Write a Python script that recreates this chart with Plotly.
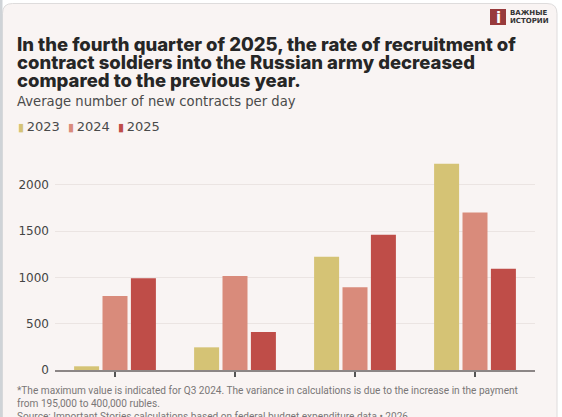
import plotly.graph_objects as go

categories = ["I", "II", "III*", "IV"]
years = ["2023", "2024", "2025"]
values_2023 = [40, 245, 1225, 2230]
values_2024 = [800, 1015, 895, 1703]
values_2025 = [992, 412, 1462, 1094]
series = [values_2023, values_2024, values_2025]
colors = ["#d5c375", "#d98b7b", "#bf4d48"]
y_ticks = [0, 500, 1000, 1500, 2000]

W, H = 562, 417
L, R, T, B = 55, 27, 160, 47
PW, PH = W - L - R, H - T - B


def px(x):
    return (x - L) / PW


def py(y):
    return (H - B - y) / PH


fig = go.Figure()
for name, vals, col in zip(years, series, colors):
    fig.add_trace(go.Bar(x=categories, y=vals, name=name, marker_color=col,
                         marker_line_width=0, showlegend=False))

shapes = []
r = 10
x0, x1, y0, y1 = 2.5, 557, 3.5, 430
path = (f"M {px(x0)},{py(y1)} L {px(x0)},{py(y0 + r)} "
        f"Q {px(x0)},{py(y0)} {px(x0 + r)},{py(y0)} "
        f"L {px(x1 - r)},{py(y0)} Q {px(x1)},{py(y0)} {px(x1)},{py(y0 + r)} "
        f"L {px(x1)},{py(y1)} Z")
shapes.append(dict(type="path", path=path, xref="paper", yref="paper",
                   fillcolor="#f9f4f3", line=dict(color="#dedcdc", width=1), layer="below"))
shapes.append(dict(type="rect", xref="paper", yref="paper", x0=px(0), x1=px(2.5),
                   y0=py(H + 5), y1=py(-5), fillcolor="#cfd3d7", line_width=0, layer="below"))
shapes.append(dict(type="rect", xref="paper", yref="paper", x0=px(490), x1=px(506),
                   y0=py(25), y1=py(9), fillcolor="#983a3c", line_width=0, layer="above"))

ann = []
title_lines = [
    "In the fourth quarter of 2025, the rate of recruitment of",
    "contract soldiers into the Russian army decreased",
    "compared to the previous year.",
]
for i, t in enumerate(title_lines):
    ann.append(dict(text=t, x=px(15), y=py(43.5 + i * 18.2), xref="paper", yref="paper",
                    xanchor="left", yanchor="middle", showarrow=False,
                    font=dict(family="Inter", size=18.5, weight=800, color="#262626")))
ann.append(dict(text="Average number of new contracts per day", x=px(15), y=py(101.5),
                xref="paper", yref="paper", xanchor="left", yanchor="middle", showarrow=False,
                font=dict(family="DejaVu Sans", size=13.2, color="#4a4a4a")))
leg = "  ".join(f"<span style='color:{c};font-size:11px'>▮</span>\u2009{y}" for y, c in zip(years, colors))
ann.append(dict(text=leg, x=px(15.5), y=py(127), xref="paper", yref="paper",
                xanchor="left", yanchor="middle", showarrow=False,
                font=dict(family="DejaVu Sans", size=13, color="#4a4a4a")))
ann.append(dict(text="<b>i</b>", x=px(498), y=py(17.5), xref="paper", yref="paper",
                xanchor="center", yanchor="middle", showarrow=False,
                font=dict(family="DejaVu Sans", size=15, color="#ffffff")))
ann.append(dict(text="<b>ВАЖНЫЕ</b>", x=px(508), y=py(12.5), xref="paper", yref="paper",
                xanchor="left", yanchor="middle", showarrow=False,
                font=dict(family="DejaVu Sans", size=7, color="#333333")))
ann.append(dict(text="<b>ИСТОРИИ</b>", x=px(508), y=py(21), xref="paper", yref="paper",
                xanchor="left", yanchor="middle", showarrow=False,
                font=dict(family="DejaVu Sans", size=7, color="#333333")))
foot = [
    "*The maximum value is indicated for Q3 2024. The variance in calculations is due to the increase in the payment",
    "from 195,000 to 400,000 rubles.",
    "Source: Important Stories calculations based on federal budget expenditure data • 2026",
]
for i, t in enumerate(foot):
    ann.append(dict(text=t, x=px(15), y=py(390 + i * 13), xref="paper", yref="paper",
                    xanchor="left", yanchor="middle", showarrow=False,
                    font=dict(family="Roboto", size=10.1, color="#7a7777")))

fig.update_layout(
    width=W, height=H,
    margin=dict(l=L, r=R, t=T, b=B, pad=0),
    paper_bgcolor="#ffffff", plot_bgcolor="rgba(0,0,0,0)",
    barmode="group", bargap=0.29, bargroupgap=0.12,
    shapes=shapes, annotations=ann,
    xaxis=dict(range=[-0.5, 3.5], showticklabels=False, ticks="outside", ticklen=5,
               tickcolor="#555555", tickwidth=1.5, showline=True, linecolor="#8c8686",
               linewidth=2, showgrid=False, fixedrange=True),
    yaxis=dict(range=[0, 2270], tickvals=y_ticks, showgrid=True, gridcolor="#ebe4e2",
               gridwidth=1, zeroline=False, showline=False, ticks="",
               ticklabelstandoff=5,
               tickfont=dict(family="DejaVu Sans", size=12, color="#444444")),
)

fig.write_html("out.html")
